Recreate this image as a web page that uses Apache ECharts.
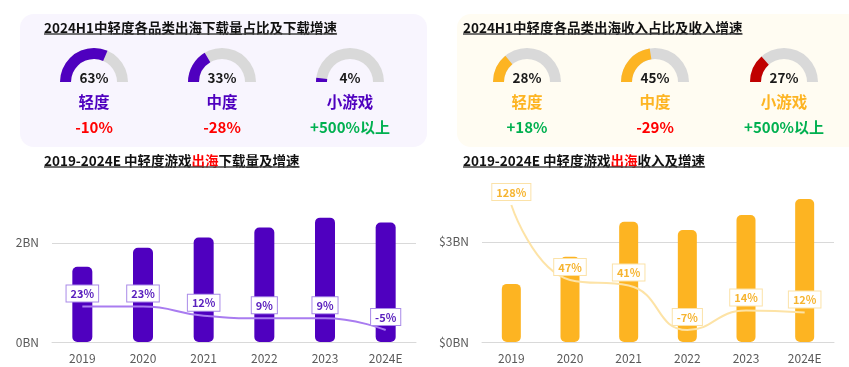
<!DOCTYPE html>
<html>
<head>
<meta charset="utf-8">
<script src="https://cdn.jsdelivr.net/npm/echarts@6/dist/echarts.min.js"></script>
<style>
html,body{margin:0;padding:0;background:#fff;}
#main{width:849px;height:367px;}
</style>
</head>
<body>
<div id="main"></div>
<script>
// ---- data ----
const gaugeNames = ['轻度', '中度', '小游戏'];
const dlShare = [63, 33, 4];
const dlGrowth = ['-10%', '-28%', '+500%以上'];
const revShare = [28, 45, 27];
const revGrowth = ['+18%', '-29%', '+500%以上'];

const years = ['2019', '2020', '2021', '2022', '2023', '2024E'];
const downloads = [1.52, 1.90, 2.11, 2.31, 2.51, 2.41];   // BN
const dlRate = [23, 23, 12, 9, 9, -5];                    // %
const revenue = [1.74, 2.55, 3.60, 3.35, 3.80, 4.28];     // $BN
const revRate = [128, 47, 41, -7, 14, 12];                // %

const titleTopLeft = '2024H1中轻度各品类出海下载量占比及下载增速';
const titleTopRight = '2024H1中轻度各品类出海收入占比及收入增速';
const titleBotLeft = ['2019-2024E 中轻度游戏', '出海', '下载量及增速'];
const titleBotRight = ['2019-2024E 中轻度游戏', '出海', '收入及增速'];

// ---- styles ----
const FONT = '"Noto Sans CJK SC", "Noto Sans", sans-serif';
const PURPLE = '#4F00BF';
const ORANGE = '#FDB422';
const DARKRED = '#C00000';
const GREY = '#D9D9D9';
const RED = '#FF0000';
const GREEN = '#00B050';
const TFS = 13.5;

const cv = document.createElement('canvas').getContext('2d');
function tw(str, size, weight) {
  cv.font = (weight || 'bold') + ' ' + size + 'px ' + FONT;
  return cv.measureText(str).width;
}

const chart = echarts.init(document.getElementById('main'), null, {renderer: 'canvas'});

function gauge(center, value, name, color, nameColor) {
  return {
    type: 'gauge',
    center: center,
    radius: 34,
    startAngle: 180,
    endAngle: 0,
    min: 0, max: 100,
    axisLine: {lineStyle: {width: 11, color: [[1, GREY]]}},
    progress: {show: true, width: 11, itemStyle: {color: color}},
    pointer: {show: false},
    anchor: {show: false},
    axisTick: {show: false},
    splitLine: {show: false},
    axisLabel: {show: false},
    title: {offsetCenter: [0, 20], fontSize: 15.5, fontWeight: 'bold', color: nameColor, fontFamily: FONT},
    detail: {offsetCenter: [0, -4], fontSize: 13.5, fontWeight: 'bold', color: '#1a1a1a', fontFamily: FONT,
      formatter: '{value}%'},
    data: [{value: value, name: name}]
  };
}

const dlCenters = [[94, 82], [222, 82], [350, 82]];
const revCenters = [[527, 82], [655, 82], [784, 82]];

const series = [];
dlShare.forEach((v, i) => series.push(gauge(dlCenters[i], v, gaugeNames[i], PURPLE, PURPLE)));
revShare.forEach((v, i) => series.push(gauge(revCenters[i], v, gaugeNames[i], i === 2 ? DARKRED : ORANGE, ORANGE)));

series.push({
  type: 'bar', xAxisIndex: 0, yAxisIndex: 0, data: downloads, barWidth: 20,
  itemStyle: {color: PURPLE, borderRadius: 5}, z: 2
});
series.push({
  type: 'line', xAxisIndex: 0, yAxisIndex: 1, data: dlRate, smooth: true,
  symbol: 'circle', symbolSize: 0, showSymbol: true,
  lineStyle: {color: '#A97CF0', width: 2}, itemStyle: {color: '#A97CF0'},
  label: {show: true, position: 'top', distance: 5, formatter: '{c}%',
    backgroundColor: '#fff', borderColor: '#A98AE8', borderWidth: 1, padding: [3, 4, 2, 4],
    fontSize: 11, fontWeight: 'bold', color: '#5A20BE', fontFamily: FONT},
  z: 3
});
series.push({
  type: 'bar', xAxisIndex: 1, yAxisIndex: 2, data: revenue, barWidth: 19,
  itemStyle: {color: ORANGE, borderRadius: 5}, z: 2
});
series.push({
  type: 'line', xAxisIndex: 1, yAxisIndex: 3, data: revRate, smooth: true,
  symbol: 'circle', symbolSize: 0, showSymbol: true,
  lineStyle: {color: '#FDE3A6', width: 2}, itemStyle: {color: '#FDE3A6'},
  label: {show: true, position: 'top', distance: 5, formatter: '{c}%',
    backgroundColor: '#fff', borderColor: '#FBE2A8', borderWidth: 1, padding: [3, 4, 2, 4],
    fontSize: 11, fontWeight: 'bold', color: '#F6B430', fontFamily: FONT},
  z: 3
});

function xAxis(gi) {
  return {
    type: 'category', gridIndex: gi, data: years,
    axisLine: {lineStyle: {color: GREY}}, axisTick: {show: false},
    axisLabel: {color: '#595959', fontSize: 12, margin: 10, fontFamily: FONT}
  };
}

function growthText(x, y, str) {
  return {type: 'text', x: x, y: y, style: {text: str, fill: str.charAt(0) === '-' ? RED : GREEN,
    font: 'bold 15px ' + FONT, align: 'center', verticalAlign: 'middle'}};
}

function title(x, y, parts) {
  const full = parts.join('');
  const w = tw(full, TFS);
  const els = [];
  let cx = x;
  parts.forEach((p, i) => {
    els.push({type: 'text', x: cx, y: y, style: {text: p, fill: (parts.length === 3 && i === 1) ? RED : '#111',
      font: 'bold ' + TFS + 'px ' + FONT, align: 'left', verticalAlign: 'middle'}});
    cx += tw(p, TFS);
  });
  els.push({type: 'line', shape: {x1: x, y1: y + 6, x2: x + w, y2: y + 6}, style: {stroke: '#444', lineWidth: 1.5}});
  return els;
}

const graphics = [
  {type: 'rect', shape: {x: 20, y: 14, width: 407, height: 133, r: 14}, style: {fill: '#F8F5FE'}, z: -10},
  {type: 'rect', shape: {x: 457, y: 14, width: 410, height: 133, r: 14}, style: {fill: '#FFFCF2'}, z: -10}
];
graphics.push(...title(44, 28, [titleTopLeft]));
graphics.push(...title(463, 28, [titleTopRight]));
graphics.push(...title(44, 161, titleBotLeft));
graphics.push(...title(463, 161, titleBotRight));
dlGrowth.forEach((g, i) => graphics.push(growthText(dlCenters[i][0], 127, g)));
revGrowth.forEach((g, i) => graphics.push(growthText(revCenters[i][0], 127, g)));

chart.setOption({
  backgroundColor: '#fff',
  animation: false,
  textStyle: {fontFamily: FONT},
  grid: [
    {left: 52, right: 433, top: 180, bottom: 25},
    {left: 482, right: 15, top: 180, bottom: 25}
  ],
  xAxis: [xAxis(0), xAxis(1)],
  yAxis: [
    {type: 'value', gridIndex: 0, min: 0, max: 3.27, interval: 2,
      axisLabel: {formatter: v => v + 'BN', color: '#595959', fontSize: 12, margin: 13, showMaxLabel: false, fontFamily: FONT},
      splitLine: {lineStyle: {color: GREY}, showMaxLine: false}, axisLine: {show: false}, axisTick: {show: false}},
    {type: 'value', gridIndex: 0, min: -19.3, max: 173.6, show: false, splitLine: {show: false}},
    {type: 'value', gridIndex: 1, min: 0, max: 4.85, interval: 3,
      axisLabel: {formatter: v => '$' + v + 'BN', color: '#595959', fontSize: 12, margin: 13, showMaxLabel: false, fontFamily: FONT},
      splitLine: {lineStyle: {color: GREY}, showMaxLine: false}, axisLine: {show: false}, axisTick: {show: false}},
    {type: 'value', gridIndex: 1, min: -20, max: 155, show: false, splitLine: {show: false}}
  ],
  graphic: graphics,
  series: series
});
</script>
</body>
</html>
